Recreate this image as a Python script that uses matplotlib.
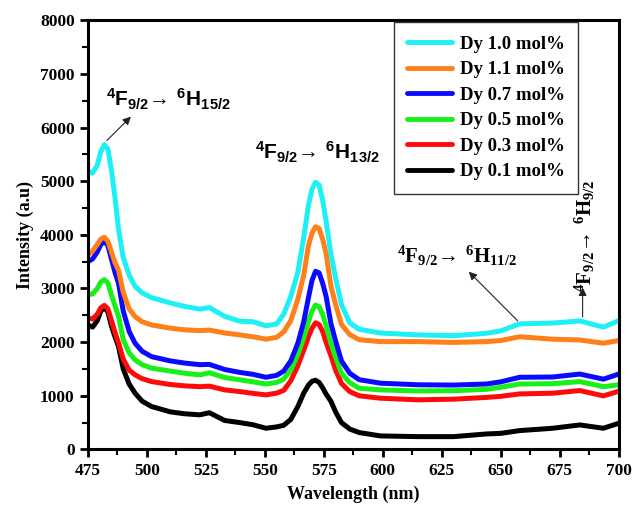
import numpy as np
import matplotlib
matplotlib.use("Agg")
import matplotlib.pyplot as plt
from matplotlib.ticker import MultipleLocator

plt.rcParams['font.family'] = ['Liberation Serif', 'DejaVu Serif']
plt.rcParams['font.weight'] = 'bold'
plt.rcParams['mathtext.fontset'] = 'custom'
plt.rcParams['mathtext.rm'] = 'Liberation Serif:bold'
plt.rcParams['mathtext.sf'] = 'Liberation Sans:bold'

# wavelength grid (nm)
wl = [475, 477, 479, 480.5, 482, 483.5, 485, 486.5, 488, 490, 492.5, 495, 498, 502,
      510, 516, 522.5, 526.5, 533, 539.5, 545, 550.5, 555, 558, 561, 564, 566.5, 568.5,
      570, 571.5, 573, 574.5, 576, 578, 580, 582.5, 586, 590, 599, 615, 630, 644, 650,
      658, 672, 683.5, 693.5, 700]

dy_10 = [5180, 5150, 5300, 5550, 5680, 5600, 5200, 4700, 4100, 3580, 3250, 3040, 2920, 2830,
         2730, 2665, 2615, 2645, 2480, 2390, 2380, 2305, 2340, 2520, 2850, 3300, 3950, 4550,
         4850, 4980, 4930, 4650, 4250, 3650, 3200, 2700, 2360, 2240, 2170, 2135, 2120, 2165, 2210,
         2340, 2355, 2395, 2280, 2400]
dy_11 = [3630, 3700, 3820, 3920, 3955, 3880, 3680, 3480, 3340, 2930, 2620, 2475, 2380, 2320,
         2260, 2230, 2215, 2225, 2170, 2135, 2100, 2055, 2090, 2190, 2400, 2800, 3250, 3800,
         4030, 4150, 4120, 3920, 3650, 3050, 2700, 2330, 2140, 2045, 2010, 2010, 1995, 2010, 2030,
         2100, 2055, 2040, 1980, 2030]
dy_07 = [3500, 3550, 3680, 3820, 3880, 3800, 3550, 3300, 3100, 2580, 2200, 1980, 1830, 1730,
         1650, 1610, 1580, 1585, 1490, 1435, 1400, 1345, 1380, 1460, 1650, 1980, 2380, 2830,
         3150, 3320, 3290, 3100, 2850, 2350, 2020, 1650, 1420, 1300, 1235, 1205, 1200, 1220, 1260,
         1345, 1350, 1405, 1310, 1405]
dy_05 = [2880, 2900, 3000, 3120, 3165, 3100, 2880, 2680, 2478, 2050, 1800, 1670, 1580, 1515,
         1460, 1420, 1390, 1430, 1340, 1297, 1260, 1220, 1250, 1310, 1480, 1770, 2080, 2380,
         2580, 2690, 2660, 2520, 2300, 1980, 1720, 1420, 1245, 1140, 1110, 1090, 1095, 1120, 1160,
         1220, 1225, 1265, 1170, 1205]
dy_03 = [2450, 2430, 2520, 2640, 2685, 2620, 2400, 2180, 1987, 1680, 1480, 1390, 1320, 1265,
         1210, 1185, 1170, 1180, 1110, 1078, 1045, 1017, 1050, 1100, 1280, 1560, 1850, 2100,
         2260, 2360, 2330, 2200, 1990, 1750, 1480, 1230, 1078, 1000, 955, 925, 937, 970, 990,
         1035, 1048, 1098, 998, 1085]
dy_01 = [2320, 2280, 2400, 2580, 2650, 2560, 2300, 2100, 1918, 1500, 1220, 1050, 900, 800,
         700, 665, 645, 685, 540, 500, 460, 395, 420, 450, 560, 800, 1050, 1200,
         1270, 1290, 1250, 1150, 1030, 900, 700, 500, 380, 315, 252, 239, 239, 289, 300,
         351, 395, 457, 395, 488]

labels = ['Dy 1.0 mol%', 'Dy 1.1 mol%', 'Dy 0.7 mol%', 'Dy 0.5 mol%', 'Dy 0.3 mol%', 'Dy 0.1 mol%']
series = [dy_10, dy_11, dy_07, dy_05, dy_03, dy_01]
colors = ['#1ff0f5', '#ff8019', '#0a0aff', '#19f019', '#ff0a0a', '#000000']

fig = plt.figure(figsize=(6.32, 5.05), dpi=100)
ax = fig.add_axes([0.139, 0.110, 0.840, 0.850])

lines = []
for lab, ys, c in zip(labels[::-1], series[::-1], colors[::-1]):
    ln, = ax.plot(wl, ys, color=c, lw=3.6, label=lab,
                  solid_capstyle='round', solid_joinstyle='round')
    lines.append(ln)
lines = lines[::-1]

ax.set_xlim(475, 700)
ax.set_ylim(0, 8000)
ax.xaxis.set_major_locator(MultipleLocator(25))
ax.xaxis.set_minor_locator(MultipleLocator(12.5))
ax.yaxis.set_major_locator(MultipleLocator(1000))
ax.yaxis.set_minor_locator(MultipleLocator(500))
ax.tick_params(which='major', direction='out', length=6, width=2, labelsize=12.5)
ax.tick_params(which='minor', direction='out', length=4, width=1.5)
for s in ax.spines.values():
    s.set_linewidth(2.2)

ax.set_xlabel('Wavelength (nm)', fontsize=13, fontweight='bold', labelpad=5)
ax.set_ylabel('Intensity (a.u)', fontsize=13, fontweight='bold', labelpad=4)

leg = ax.legend(handles=lines, loc='upper left', bbox_to_anchor=(0.576, 0.995),
                borderaxespad=0, fontsize=13.5, handlelength=2.4, handletextpad=0.45,
                labelspacing=0.45, fancybox=False, framealpha=1, edgecolor='#333333',
                borderpad=0.7)
leg.get_frame().set_linewidth(1.0)
for lh in leg.get_lines():
    lh.set_linewidth(3.5)

arrow = dict(arrowstyle='-|>', color='#222222', lw=0.8, mutation_scale=12)

ax.text(482.6, 6390, r'$\mathsf{{}^{4}F_{9/2}→\ {}^{6}H_{15/2}}$', fontsize=15, va='baseline')
ax.annotate('', xy=(494.1, 6240), xytext=(482.2, 5720), arrowprops=arrow)

ax.text(545.8, 5400, r'$\mathsf{{}^{4}F_{9/2}→\ {}^{6}H_{13/2}}$', fontsize=15, va='baseline')

ax.text(605.9, 3480, r'$\mathrm{{}^{4}F_{9/2}→\ {}^{6}H_{11/2}}$', fontsize=15, va='baseline')
ax.annotate('', xy=(635.6, 3350), xytext=(658, 2360), arrowprops=arrow)

ax.text(685.6, 2940, r'$\mathrm{{}^{4}F_{9/2}→\ {}^{6}H_{9/2}}$', fontsize=15,
        rotation=90, ha='center', va='bottom')
ax.annotate('', xy=(684.7, 3070), xytext=(684.7, 2420), arrowprops=arrow)

fig.savefig('out.png', dpi=100)
